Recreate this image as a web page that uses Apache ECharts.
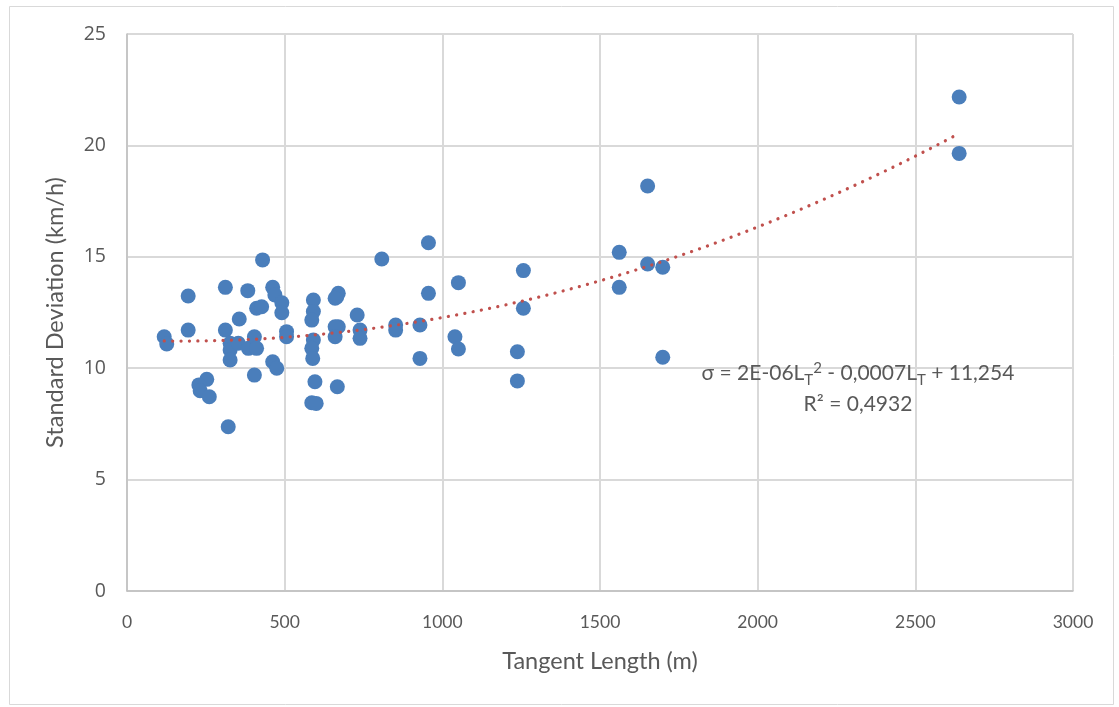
<!DOCTYPE html>
<html>
<head>
<meta charset="utf-8">
<script src="https://cdn.jsdelivr.net/npm/echarts@6/dist/echarts.min.js"></script>
<style>
html,body{margin:0;padding:0;background:#fff;}
#chart{width:1119px;height:707px;}
</style>
</head>
<body>
<div id="chart"></div>
<script>
// Tangent length (m) of each observation
const tangentLength = [
  118, 126, 194, 194, 312, 312, 327, 327, 327, 353,
  356, 383, 385, 404, 411, 404, 411, 427, 430, 462,
  469, 491, 491, 462, 475, 506, 506, 253, 228, 232,
  261, 321, 591, 591, 586, 591, 586, 589, 596, 586,
  600, 665, 670, 660, 670, 660, 660, 667, 730, 739,
  739, 808, 852, 852, 929, 929, 956, 956, 1040, 1051,
  1051, 1238, 1238, 1257, 1257, 1561, 1561, 1651, 1651, 1699,
  1699, 2639, 2639
];
// Standard deviation (km/h) of each observation
const stdDeviation = [
  11.41, 11.09, 13.24, 11.71, 13.63, 11.71, 11.12, 10.82, 10.37, 11.12,
  12.21, 13.48, 10.89, 11.41, 10.89, 9.69, 12.69, 12.76, 14.86, 13.63,
  13.29, 12.94, 12.49, 10.29, 10.00, 11.64, 11.41, 9.50, 9.25, 8.99,
  8.72, 7.37, 13.06, 12.54, 12.16, 11.27, 10.89, 10.44, 9.39, 8.45,
  8.42, 13.20, 13.36, 13.14, 11.86, 11.86, 11.41, 9.17, 12.39, 11.71,
  11.34, 14.90, 11.94, 11.71, 11.94, 10.44, 15.63, 13.36, 11.41, 13.84,
  10.86, 10.74, 9.43, 14.38, 12.69, 15.20, 13.63, 18.18, 14.68, 14.53,
  10.49, 22.17, 19.64
];
const xTicks = {min: 0, max: 3000, interval: 500};
const yTicks = {min: 0, max: 25, interval: 5};
const equationText = ['σ = 2E-06L', 'T', '2', ' - 0,0007L', 'T', ' + 11,254'];
const r2Text = 'R² = 0,4932';

// Polynomial (order 2) least-squares trendline computed from the data
function quadFit(xs, ys) {
  const s = 1000;
  let S = [0,0,0,0,0], T = [0,0,0];
  for (let i = 0; i < xs.length; i++) {
    const x = xs[i] / s, y = ys[i];
    let p = 1;
    for (let k = 0; k < 5; k++) { S[k] += p; if (k < 3) T[k] += p * y; p *= x; }
  }
  const A = [[S[0],S[1],S[2],T[0]],[S[1],S[2],S[3],T[1]],[S[2],S[3],S[4],T[2]]];
  for (let c = 0; c < 3; c++) {
    let piv = c;
    for (let r = c+1; r < 3; r++) if (Math.abs(A[r][c]) > Math.abs(A[piv][c])) piv = r;
    [A[c], A[piv]] = [A[piv], A[c]];
    for (let r = 0; r < 3; r++) if (r !== c) {
      const f = A[r][c] / A[c][c];
      for (let k = c; k < 4; k++) A[r][k] -= f * A[c][k];
    }
  }
  const c0 = A[0][3]/A[0][0], c1 = A[1][3]/A[1][1], c2 = A[2][3]/A[2][2];
  return x => c0 + c1 * (x/s) + c2 * (x/s) * (x/s);
}
const fit = quadFit(tangentLength, stdDeviation);
const xMinData = Math.min(...tangentLength), xMaxData = Math.max(...tangentLength);
const trend = [];
const steps = 120;
for (let i = 0; i <= steps; i++) {
  const x = xMinData + (xMaxData - xMinData) * i / steps;
  trend.push([x, fit(x)]);
}
const points = tangentLength.map((x, i) => [x, stdDeviation[i]]);

const chart = echarts.init(document.getElementById('chart'), null, {renderer: 'canvas'});
const labelColor = '#595959';
const gridColor = '#d9d9d9';
chart.setOption({
  animation: false,
  backgroundColor: '#ffffff',
  grid: {left: 127, top: 34, width: 946, height: 557, containLabel: false},
  xAxis: {
    type: 'value', min: xTicks.min, max: xTicks.max, interval: xTicks.interval,
    name: 'Tangent Length (m)', nameLocation: 'middle', nameGap: 58,
    nameTextStyle: {fontFamily: 'Lato', fontSize: 23.5, color: labelColor},
    axisLine: {show: true, onZero: false, lineStyle: {color: '#bfbfbf', width: 1.5}},
    axisTick: {show: false},
    axisLabel: {fontFamily: 'Lato', fontSize: 17.5, color: labelColor, margin: 22,
      formatter: v => String(v)},
    splitLine: {show: true, lineStyle: {color: gridColor, width: 2}}
  },
  yAxis: {
    type: 'value', min: yTicks.min, max: yTicks.max, interval: yTicks.interval,
    name: 'Standard Deviation (km/h)', nameLocation: 'middle', nameGap: 60,
    nameTextStyle: {fontFamily: 'Lato', fontSize: 23.5, color: labelColor},
    axisLine: {show: true, onZero: false, lineStyle: {color: '#bfbfbf', width: 1.5}},
    axisTick: {show: false},
    axisLabel: {fontFamily: 'Open Sans', fontSize: 19.5, color: labelColor, margin: 21,
      formatter: v => String(v)},
    splitLine: {show: true, lineStyle: {color: gridColor, width: 2}}
  },
  series: [
    {
      type: 'scatter', data: points, symbol: 'circle', symbolSize: 15,
      itemStyle: {color: '#4a7ebb', borderColor: '#4a7ebb', borderWidth: 0, opacity: 1},
      z: 2
    },
    {
      type: 'line', data: trend, showSymbol: false, symbol: 'none', smooth: false,
      lineStyle: {color: '#c0504d', width: 3.2, type: [0.1, 8.3], cap: 'round'},
      z: 3, silent: true
    }
  ],
  graphic: [
    {
      type: 'rect', left: 7, top: 4, silent: true, z: -10,
      shape: {width: 1104, height: 698},
      style: {fill: 'none', stroke: '#d9d9d9', lineWidth: 1}
    },
    {
      type: 'text', x: 858, y: 373, z: 10,
      style: {
        text: '{a|' + equationText[0] + '}{sub|' + equationText[1] + '}{sup|' + equationText[2] + '}{a|' + equationText[3] + '}{sub|' + equationText[4] + '}{a|' + equationText[5] + '}',
        align: 'center', verticalAlign: 'middle', fill: labelColor,
        rich: {
          a: {fontFamily: 'Lato', fontSize: 21, fill: labelColor},
          sub: {fontFamily: 'Lato', fontSize: 15, fill: labelColor, padding: [14, 0, 0, 0]},
          sup: {fontFamily: 'Lato', fontSize: 15, fill: labelColor, padding: [0, 0, 10, 0]}
        }
      }
    },
    {
      type: 'text', x: 858, y: 404, z: 10,
      style: {
        text: r2Text, align: 'center', verticalAlign: 'middle',
        fontFamily: 'Lato', fontSize: 21, fill: labelColor
      }
    }
  ]
});
</script>
</body>
</html>
